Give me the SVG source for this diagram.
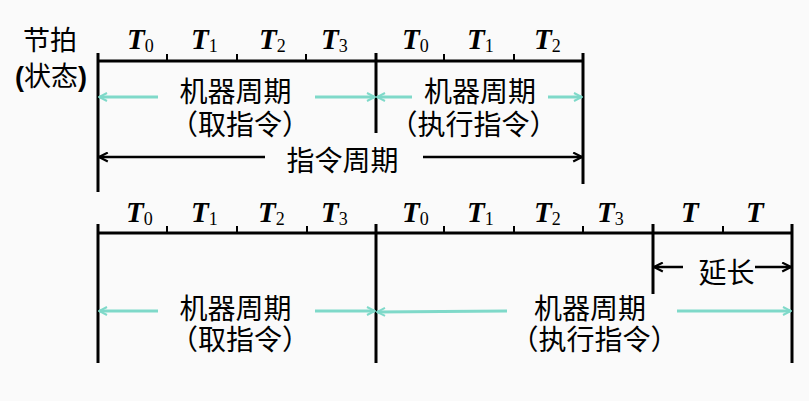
<svg xmlns="http://www.w3.org/2000/svg" width="809" height="401" viewBox="0 0 809 401">
<defs>
<style>
.axis{stroke:#000;stroke-width:3;fill:none}
.tick{stroke:#000;stroke-width:2;fill:none}
.cy{stroke:#7fd9c9;stroke-width:3;fill:none}
.bk{stroke:#000;stroke-width:2.5;fill:none}
.cn{font-family:"Noto Sans CJK SC","Noto Sans CJK JP",sans-serif;font-size:28px;fill:#000;text-anchor:middle}
.t{font-family:"Liberation Serif",serif;font-size:29px;font-weight:bold;font-style:italic;fill:#000}
.sub{font-size:18px;font-weight:normal;font-style:normal}
.par{font-family:"Liberation Sans",sans-serif;font-weight:bold}
</style>
<marker id="ac" viewBox="0 0 10 10" refX="9" refY="5" markerWidth="10" markerHeight="10" markerUnits="userSpaceOnUse" orient="auto-start-reverse">
<path d="M1,1 L9,5 L1,9" fill="none" stroke="#7fd9c9" stroke-width="2"/>
</marker>
<marker id="ab" viewBox="0 0 10 10" refX="9" refY="5" markerWidth="11" markerHeight="11" markerUnits="userSpaceOnUse" orient="auto-start-reverse">
<path d="M1,1 L9,5 L1,9" fill="none" stroke="#000" stroke-width="2"/>
</marker>
</defs>
<rect width="809" height="401" fill="#fafafa"/>

<g id="label-jiepai">
<text class="cn" x="50" y="50" style="font-size:27px">节拍</text>
<text class="cn" x="51" y="86" style="font-size:27px"><tspan class="par">(</tspan>状态<tspan class="par">)</tspan></text>
</g>

<g id="timeline-top">
<line class="axis" x1="98" y1="61" x2="583" y2="61"/>
<line class="axis" x1="98" y1="53" x2="98" y2="192"/>
<line class="axis" x1="376" y1="53" x2="376" y2="133"/>
<line class="axis" x1="583" y1="53" x2="583" y2="184"/>
<path class="tick" d="M167,54V61M237,54V61M306,54V61M444,54V61M514,54V61"/>
<text class="t" x="127" y="49">T<tspan class="sub" dy="3">0</tspan></text>
<text class="t" x="191" y="49">T<tspan class="sub" dy="3">1</tspan></text>
<text class="t" x="259" y="49">T<tspan class="sub" dy="3">2</tspan></text>
<text class="t" x="321" y="49">T<tspan class="sub" dy="3">3</tspan></text>
<text class="t" x="402" y="49">T<tspan class="sub" dy="3">0</tspan></text>
<text class="t" x="467" y="49">T<tspan class="sub" dy="3">1</tspan></text>
<text class="t" x="534" y="49">T<tspan class="sub" dy="3">2</tspan></text>
</g>

<g id="timeline-bottom">
<line class="axis" x1="98" y1="233" x2="792" y2="233"/>
<line class="axis" x1="98" y1="224" x2="98" y2="363"/>
<line class="axis" x1="376" y1="224" x2="376" y2="363"/>
<line class="axis" x1="653" y1="224" x2="653" y2="294"/>
<line class="axis" x1="792" y1="224" x2="792" y2="363"/>
<path class="tick" d="M167,226V233M237,226V233M307,226V233M444,226V233M514,226V233M583,226V233M723,226V233"/>
<text class="t" x="126" y="222">T<tspan class="sub" dy="3">0</tspan></text>
<text class="t" x="191" y="222">T<tspan class="sub" dy="3">1</tspan></text>
<text class="t" x="258" y="222">T<tspan class="sub" dy="3">2</tspan></text>
<text class="t" x="321" y="222">T<tspan class="sub" dy="3">3</tspan></text>
<text class="t" x="402" y="222">T<tspan class="sub" dy="3">0</tspan></text>
<text class="t" x="467" y="222">T<tspan class="sub" dy="3">1</tspan></text>
<text class="t" x="534" y="222">T<tspan class="sub" dy="3">2</tspan></text>
<text class="t" x="597" y="222">T<tspan class="sub" dy="3">3</tspan></text>
<text class="t" x="681" y="222">T</text>
<text class="t" x="746" y="222">T</text>
</g>

<g id="node-fetch-top">
<text class="cn" x="235.5" y="102">机器周期</text>
<text class="cn" x="240" y="135">（取指令）</text>
</g>
<g id="node-exec-top">
<text class="cn" x="480" y="102">机器周期</text>
<text class="cn" x="473.5" y="135">（执行指令）</text>
</g>
<g id="node-instr-cycle">
<text class="cn" x="342.5" y="171">指令周期</text>
</g>
<g id="node-fetch-bottom">
<text class="cn" x="235.5" y="319">机器周期</text>
<text class="cn" x="240" y="350">（取指令）</text>
</g>
<g id="node-exec-bottom">
<text class="cn" x="590" y="319">机器周期</text>
<text class="cn" x="594.5" y="350">（执行指令）</text>
</g>
<g id="node-extend">
<text class="cn" x="726.5" y="283">延长</text>
</g>

<g id="connectors">
<line class="cy" x1="158" y1="97" x2="99" y2="97" marker-end="url(#ac)"/>
<line class="cy" x1="315" y1="97" x2="375" y2="97" marker-end="url(#ac)"/>
<line class="cy" x1="412" y1="97" x2="377" y2="97" marker-end="url(#ac)"/>
<line class="cy" x1="548" y1="97" x2="582" y2="97" marker-end="url(#ac)"/>
<line class="bk" x1="265" y1="157" x2="99" y2="157" marker-end="url(#ab)"/>
<line class="bk" x1="423" y1="157" x2="582" y2="157" marker-end="url(#ab)"/>
<line class="cy" x1="158" y1="311" x2="99" y2="311" marker-end="url(#ac)"/>
<line class="cy" x1="315" y1="311" x2="375" y2="311" marker-end="url(#ac)"/>
<line class="cy" x1="507" y1="311" x2="377" y2="312" marker-end="url(#ac)"/>
<line class="cy" x1="677" y1="311" x2="791" y2="311" marker-end="url(#ac)"/>
<line class="bk" x1="683" y1="267" x2="654" y2="267" marker-end="url(#ab)"/>
<line class="bk" x1="755" y1="267" x2="791" y2="267" marker-end="url(#ab)"/>
</g>
</svg>
